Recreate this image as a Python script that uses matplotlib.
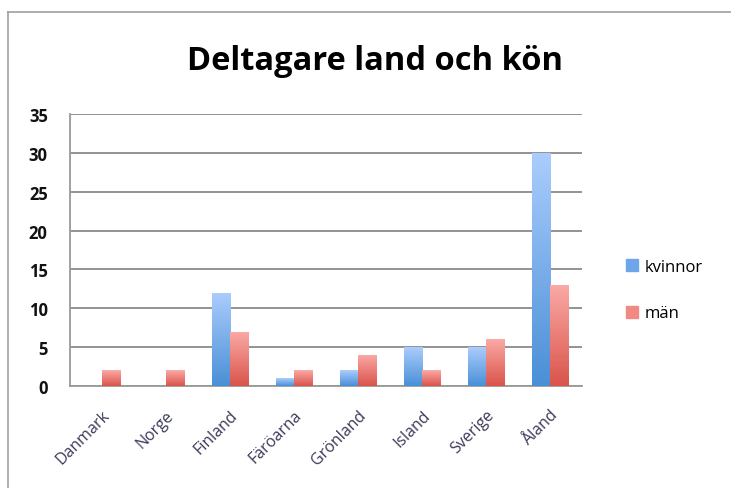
import numpy as np
import matplotlib
matplotlib.use("Agg")
import matplotlib.pyplot as plt
from matplotlib.colors import LinearSegmentedColormap
from matplotlib.lines import Line2D

# =====================
# DATA
# =====================

countries = ["Danmark", "Norge", "Finland", "Färöarna", "Grönland", "Island", "Sverige", "Åland"]
kvinnor = [0, 0, 12, 1, 2, 5, 5, 30]
man = [2, 2, 7, 2, 4, 2, 6, 13]
series_names = ["kvinnor", "män"]
yticks = [0, 5, 10, 15, 20, 25, 30, 35]

# =====================
# PLOT
# =====================

plt.rcParams["font.family"] = ["Open Sans", "DejaVu Sans"]

fig = plt.figure(figsize=(7.31, 4.89), dpi=100)
ax = fig.add_axes([70 / 731, 1 - 387 / 489, 512 / 731, 272 / 489])

blue_cmap = LinearSegmentedColormap.from_list("b", ["#4a8fd6", "#abcdfd"])
red_cmap = LinearSegmentedColormap.from_list("r", ["#d9544b", "#fbaaa6"])

x = np.arange(len(countries))
w = 18.3 / 64  # bar width (gap 150%)

grad = np.linspace(0, 1, 256).reshape(-1, 1)
for vals, cmap, off in [(kvinnor, blue_cmap, -w / 2), (man, red_cmap, w / 2)]:
    bars = ax.bar(x + off, vals, width=w, color="none", edgecolor="none", zorder=3)
    for b in bars:
        h = b.get_height()
        if h <= 0:
            continue
        x0 = b.get_x()
        im = ax.imshow(grad, cmap=cmap, aspect="auto", origin="lower",
                       extent=[x0, x0 + b.get_width(), 0, h], zorder=3)
        im.set_clip_path(b)

ax.set_xlim(-0.5, len(countries) - 0.5)
ax.set_ylim(0, 35)
ax.set_yticks(yticks)
ax.grid(axis="y", color="#8a8a8a", linewidth=1.3, zorder=1)
ax.set_axisbelow(True)

for s in ["top", "right"]:
    ax.spines[s].set_visible(False)
for s in ["left", "bottom"]:
    ax.spines[s].set_color("#9a9a9a")
    ax.spines[s].set_linewidth(1.3)

ax.tick_params(axis="y", length=0, pad=16, labelsize=12, labelcolor="#111111")
for t in ax.get_yticklabels():
    t.set_fontweight("bold")

ax.set_xticks(x)
ax.set_xticklabels(countries, rotation=45, ha="right", rotation_mode="anchor",
                   fontsize=11.5, color="#3a3a5a")
ax.tick_params(axis="x", length=0, pad=15)

fig.text(375 / 731, 1 - 70 / 489, "Deltagare land och kön",
         ha="center", va="baseline", fontsize=23.5, fontweight="bold")

# legend
handles = [plt.Rectangle((0, 0), 1, 1, color="#6ea6ea"),
           plt.Rectangle((0, 0), 1, 1, color="#f08a85")]
leg = fig.legend(handles, series_names, loc="center left",
                 bbox_to_anchor=(611 / 731, 1 - 291 / 489), frameon=False,
                 fontsize=12, handlelength=0.72, handleheight=0.72,
                 handletextpad=0.42, labelspacing=1.85)

# outer chart frame
fig.add_artist(Line2D([8 / 731, 1], [1 - 13 / 489, 1 - 13 / 489], color="#a0a0a0", lw=1.2))
fig.add_artist(Line2D([8 / 731, 8 / 731], [0, 1 - 13 / 489], color="#a0a0a0", lw=1.2))

fig.savefig("out.png", dpi=100)
